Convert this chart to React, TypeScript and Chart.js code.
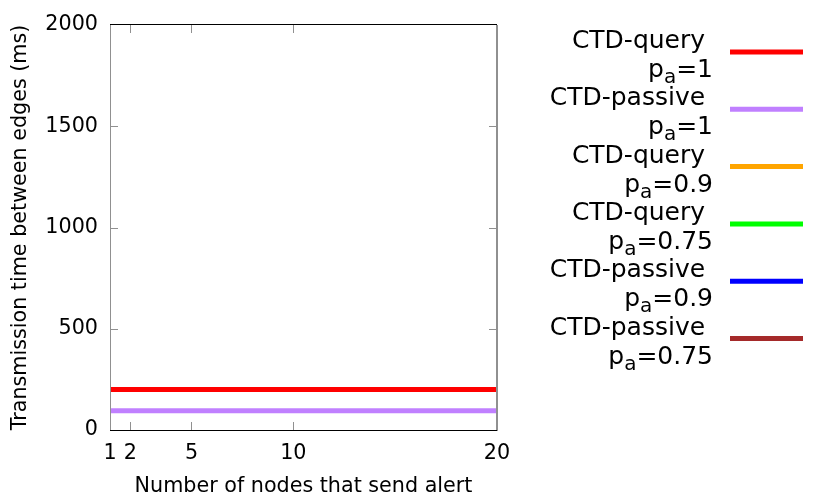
import React, { useEffect, useRef } from "react";
import { Chart, registerables } from "chart.js";

Chart.register(...registerables);

const xValues = [1, 2, 5, 10, 20];
const xTickValues = [1, 2, 5, 10, 20];
const ctdQueryP1 = [200, 200, 200, 200, 200];
const ctdPassiveP1 = [95, 95, 95, 95, 95];
const ctdQueryP09: number[] = [];
const ctdQueryP075: number[] = [];
const ctdPassiveP09: number[] = [];
const ctdPassiveP075: number[] = [];

const seriesNames = ["CTD-query", "CTD-passive", "CTD-query", "CTD-query", "CTD-passive", "CTD-passive"];
const seriesPa = ["1", "1", "0.9", "0.75", "0.9", "0.75"];
const seriesColors = ["#ff0000", "#c080ff", "#ffa500", "#00ff00", "#0000ff", "#a52a2a"];
const seriesValues = [ctdQueryP1, ctdPassiveP1, ctdQueryP09, ctdQueryP075, ctdPassiveP09, ctdPassiveP075];

const FONT = "'DejaVu Sans', sans-serif";
const AXIS_FS = 20.7;

const framePlugin = {
  id: "frame",
  afterDraw(chart: any) {
    const { ctx, chartArea: a, scales } = chart;
    const tl = 8;
    ctx.save();
    ctx.strokeStyle = "#909090";
    ctx.lineWidth = 1;
    for (const t of scales.y.ticks) {
      const y = Math.round(scales.y.getPixelForValue(t.value)) + 0.5;
      if (t.value === 0 || t.value === 2000) continue;
      ctx.beginPath();
      ctx.moveTo(a.left, y);
      ctx.lineTo(a.left + tl, y);
      ctx.moveTo(a.right, y);
      ctx.lineTo(a.right - tl, y);
      ctx.stroke();
    }
    for (const t of scales.x.ticks) {
      if (t.value === 1 || t.value === 20) continue;
      const x = Math.round(scales.x.getPixelForValue(t.value)) + 0.5;
      ctx.beginPath();
      ctx.moveTo(x, a.bottom);
      ctx.lineTo(x, a.bottom - tl);
      ctx.moveTo(x, a.top);
      ctx.lineTo(x, a.top + tl);
      ctx.stroke();
    }
    ctx.strokeStyle = "#909090";
    ctx.lineWidth = 1;
    ctx.beginPath();
    ctx.moveTo(Math.round(a.left) + 0.5, a.top);
    ctx.lineTo(Math.round(a.left) + 0.5, a.bottom);
    ctx.stroke();
    ctx.lineWidth = 2;
    ctx.beginPath();
    ctx.moveTo(Math.round(a.right), a.top);
    ctx.lineTo(Math.round(a.right), a.bottom + 1);
    ctx.stroke();
    ctx.strokeStyle = "#000000";
    ctx.lineWidth = 1;
    ctx.beginPath();
    ctx.moveTo(a.left, Math.round(a.top) - 0.5);
    ctx.lineTo(a.right, Math.round(a.top) - 0.5);
    ctx.moveTo(a.left, Math.round(a.bottom) + 0.5);
    ctx.lineTo(a.right, Math.round(a.bottom) + 0.5);
    ctx.stroke();

    // legend
    const fs = 25;
    const subFs = 20;
    const textRight = 713;
    const lineX0 = 730;
    const lineX1 = 803;
    const y0 = 52;
    const dy = 57.3;
    ctx.fillStyle = "#000";
    ctx.textBaseline = "alphabetic";
    for (let i = 0; i < seriesNames.length; i++) {
      const ly = y0 + dy * i;
      ctx.font = `${fs}px ${FONT}`;
      ctx.textAlign = "right";
      ctx.fillText(seriesNames[i] + " ", textRight, ly - 4);
      const rest = "=" + seriesPa[i];
      ctx.font = `${fs}px ${FONT}`;
      const wRest = ctx.measureText(rest).width;
      ctx.font = `${subFs}px ${FONT}`;
      const wSub = ctx.measureText("a").width;
      ctx.font = `${fs}px ${FONT}`;
      const wP = ctx.measureText("p").width;
      const b2 = ly + 25;
      let x = textRight - wRest - wSub - wP;
      ctx.textAlign = "left";
      ctx.fillText("p", x, b2);
      x += wP;
      ctx.font = `${subFs}px ${FONT}`;
      ctx.fillText("a", x, b2 + 6);
      x += wSub;
      ctx.font = `${fs}px ${FONT}`;
      ctx.fillText(rest, x, b2);
      ctx.strokeStyle = seriesColors[i];
      ctx.lineWidth = 5;
      ctx.beginPath();
      ctx.moveTo(lineX0, ly);
      ctx.lineTo(lineX1, ly);
      ctx.stroke();
    }
    ctx.restore();
  },
};

export default function App() {
  const ref = useRef<HTMLCanvasElement>(null);
  useEffect(() => {
    if (!ref.current) return;
    const chart = new Chart(ref.current, {
      type: "line",
      data: {
        datasets: seriesValues.map((vals, i) => ({
          label: seriesNames[i] + " p_a=" + seriesPa[i],
          data: vals.map((v, j) => ({ x: xValues[j], y: v })),
          borderColor: seriesColors[i],
          backgroundColor: seriesColors[i],
          borderWidth: 5,
          pointRadius: 0,
          tension: 0,
        })),
      },
      options: {
        animation: false,
        responsive: false,
        layout: { padding: { top: 25, right: 333, left: 0, bottom: 0 } },
        plugins: { legend: { display: false }, tooltip: { enabled: false } },
        scales: {
          x: {
            type: "linear",
            min: 1,
            max: 20,
            afterBuildTicks: (s: any) => {
              s.ticks = xTickValues.map((v) => ({ value: v }));
            },
            afterFit: (s: any) => {
              s.height = 68;
            },
            grid: { display: false, drawTicks: false },
            border: { display: false },
            ticks: {
              color: "#000",
              font: { family: FONT, size: AXIS_FS },
              padding: 11,
              maxRotation: 0,
              autoSkip: false,
              callback: (v: any) => String(v),
            },
            title: {
              display: true,
              text: "Number of nodes that send alert",
              color: "#000",
              font: { family: FONT, size: AXIS_FS },
              padding: { top: 0, bottom: -1 },
            },
          },
          y: {
            min: 0,
            max: 2000,
            afterFit: (s: any) => {
              s.width = 110;
            },
            grid: { display: false, drawTicks: false },
            border: { display: false },
            ticks: {
              stepSize: 500,
              color: "#000",
              font: { family: FONT, size: AXIS_FS },
              padding: 12,
              callback: (v: any) => String(v),
            },
            title: {
              display: true,
              text: "Transmission time between edges (ms)",
              color: "#000",
              font: { family: FONT, size: AXIS_FS },
              padding: { top: 8, bottom: 0 },
            },
          },
        },
      },
      plugins: [framePlugin],
    });
    return () => chart.destroy();
  }, []);
  return (
    <div style={{ position: "fixed", left: 0, top: 0, width: 830, height: 498, background: "#fff" }}>
      <canvas ref={ref} width={830} height={498} style={{ display: "block" }} />
    </div>
  );
}
